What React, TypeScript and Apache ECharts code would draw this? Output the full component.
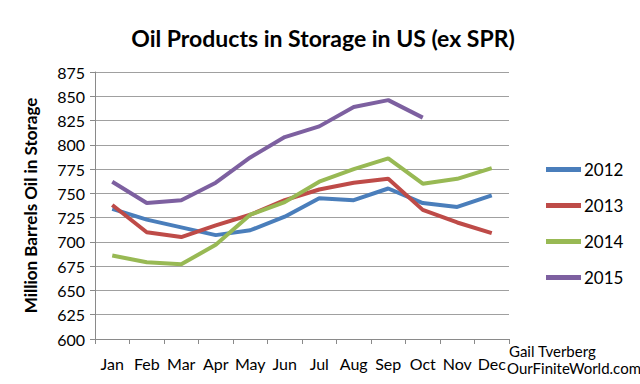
import React, { useEffect, useRef } from "react";
import * as echarts from "echarts";

const months = ["Jan", "Feb", "Mar", "Apr", "May", "Jun", "Jul", "Aug", "Sep", "Oct", "Nov", "Dec"];
const s2012 = [734, 723, 715, 707, 712, 726, 745, 743, 755, 740, 736, 748];
const s2013 = [738, 710, 705, 717, 728, 743, 754, 761, 765, 733, 720, 709];
const s2014 = [686, 679, 677, 697, 728, 741, 762, 775, 786, 760, 765, 776];
const s2015 = [762, 740, 743, 761, 787, 808, 819, 839, 846, 828];
const seriesNames = ["2012", "2013", "2014", "2015"];
const colors = ["#4A7EBB", "#BE4B48", "#98B954", "#7D60A0"];

const FONT = "Lato, 'Open Sans', sans-serif";

export default function App() {
  const ref = useRef<HTMLDivElement>(null);
  useEffect(() => {
    if (!ref.current) return;
    const chart = echarts.init(ref.current, undefined, { renderer: "svg" });
    const data = [s2012, s2013, s2014, s2015];
    chart.setOption({
      animation: false,
      backgroundColor: "#ffffff",
      color: colors,
      title: {
        text: "Oil Products in Storage in US (ex SPR)",
        left: 318,
        top: 21,
        textAlign: "center",
        textStyle: { fontFamily: FONT, fontWeight: "bold", fontSize: 23, color: "#000" },
      },
      grid: { left: 95, right: 131, top: 72, bottom: 45 },
      legend: {
        orient: "vertical",
        left: 541,
        top: 156,
        itemWidth: 35,
        itemHeight: 5,
        itemGap: 19,
        icon: "rect",
        data: seriesNames,
        textStyle: { fontFamily: FONT, fontSize: 17, color: "#000", lineHeight: 16, padding: [0, 0, 0, -2] },
      },
      xAxis: {
        type: "category",
        data: months,
        boundaryGap: true,
        axisLine: { lineStyle: { color: "#8a8a8a", width: 1 } },
        axisTick: { show: true, alignWithLabel: false, length: 5, lineStyle: { color: "#8a8a8a" } },
        axisLabel: { fontFamily: FONT, fontSize: 16, color: "#000", margin: 16, interval: 0 },
      },
      yAxis: {
        type: "value",
        min: 600,
        max: 875,
        interval: 25,
        name: "Million Barrels Oil in Storage",
        nameLocation: "middle",
        nameRotate: 90,
        nameGap: 56,
        nameTextStyle: { fontFamily: FONT, fontWeight: "bold", fontSize: 17, color: "#000" },
        axisLine: { show: true, lineStyle: { color: "#8a8a8a", width: 1 } },
        axisTick: { show: true, length: 5, lineStyle: { color: "#8a8a8a" } },
        axisLabel: { fontFamily: FONT, fontSize: 16, color: "#000", margin: 10 },
        splitLine: { show: true, lineStyle: { color: "#a0a0a0", width: 1 } },
      },
      series: seriesNames.map((n, i) => ({
        name: n,
        type: "line",
        data: data[i],
        showSymbol: false,
        symbol: "none",
        lineStyle: { width: 4, color: colors[i] },
        itemStyle: { color: colors[i] },
      })),
      graphic: [
        {
          type: "text",
          left: 509,
          top: 343,
          style: { text: "Gail Tverberg", font: `15px ${FONT}`, fill: "#000" },
        },
        {
          type: "text",
          left: 507,
          top: 360,
          style: { text: "OurFiniteWorld.com", font: `15px ${FONT}`, fill: "#000" },
        },
      ],
    });
    return () => chart.dispose();
  }, []);
  return <div ref={ref} style={{ width: 640, height: 384, position: "absolute", left: 0, top: 0 }} />;
}
